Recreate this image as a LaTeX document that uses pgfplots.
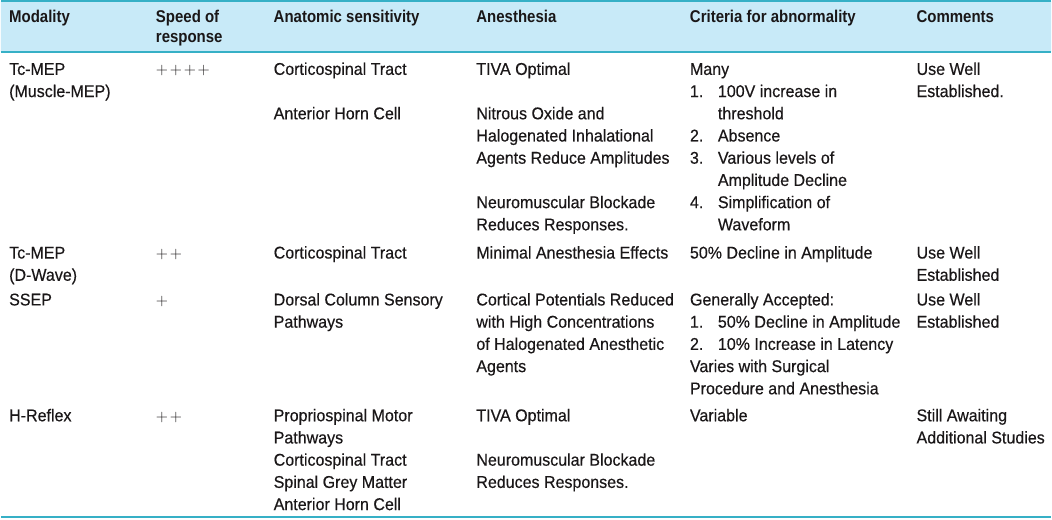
\documentclass[border=0pt]{standalone}
\usepackage{pgfplots}
\pgfplotsset{compat=1.18}
\usepackage{fontspec}
\setmainfont{Liberation Sans}[FakeStretch=0.94, FakeBold=0.4, BoldFeatures={FakeStretch=0.88, FakeBold=0}]
\definecolor{hdr}{HTML}{C8EAF8}
\definecolor{rule}{HTML}{36B0C6}
\definecolor{txt}{HTML}{1A1718}
\newcommand{\T}[3]{\node[anchor=base west,inner sep=0pt,text=txt,font=\fontsize{12.8pt}{14pt}\selectfont] at (axis cs:#1,#2) {#3};}
\newcommand{\Hd}[3]{\node[anchor=base west,inner sep=0pt,text=txt,font=\fontsize{12.8pt}{14pt}\selectfont\bfseries] at (axis cs:#1,#2) {#3};}
\newcommand{\pl}{{+}\mkern2mu}
\begin{document}
\begin{tikzpicture}
\begin{axis}[
  width=789pt, height=390pt, scale only axis,
  xmin=0, xmax=1052, ymin=0, ymax=520, y dir=reverse,
  hide axis, clip=false]
% header band and rules
\addplot[draw=none, fill=hdr] coordinates {(0,1) (1052,1) (1052,52) (0,52) (0,1)};
\addplot[draw=rule, line width=1.4pt] coordinates {(0,1) (1052,1)};
\addplot[draw=rule, line width=1.4pt] coordinates {(0,52) (1052,52)};
\addplot[draw=rule, line width=1.4pt] coordinates {(0,518) (1052,518)};
\path (axis cs:0,0) rectangle (axis cs:1052,520);
% header
\Hd{8}{22.5}{Modality}
\Hd{155}{22.5}{Speed of}
\Hd{155}{43}{response}
\Hd{273}{22.5}{Anatomic sensitivity}
\Hd{476}{22.5}{Anesthesia}
\Hd{690}{22.5}{Criteria for abnormality}
\Hd{917}{22.5}{Comments}
% row 1
\T{8}{75}{Tc-MEP}
\T{8}{97.25}{(Muscle-MEP)}
\T{155}{75}{$\pl\pl\pl{+}$}
\T{273}{75}{Corticospinal Tract}
\T{273}{119.5}{Anterior Horn Cell}
\T{476}{75}{TIVA Optimal}
\T{476}{119.5}{Nitrous Oxide and}
\T{476}{141.75}{Halogenated Inhalational}
\T{476}{164}{Agents Reduce Amplitudes}
\T{476}{208.5}{Neuromuscular Blockade}
\T{476}{230.75}{Reduces Responses.}
\T{690}{75}{Many}
\T{690}{97.25}{1.}
\T{718}{97.25}{100V increase in}
\T{718}{119.5}{threshold}
\T{690}{141.75}{2.}
\T{718}{141.75}{Absence}
\T{690}{164}{3.}
\T{718}{164}{Various levels of}
\T{718}{186.25}{Amplitude Decline}
\T{690}{208.5}{4.}
\T{718}{208.5}{Simplification of}
\T{718}{230.75}{Waveform}
\T{917}{75}{Use Well}
\T{917}{97.25}{Established.}
% row 2
\T{8}{259}{Tc-MEP}
\T{8}{281.25}{(D-Wave)}
\T{155}{259}{$\pl{+}$}
\T{273}{259}{Corticospinal Tract}
\T{476}{259}{Minimal Anesthesia Effects}
\T{690}{259}{50\% Decline in Amplitude}
\T{917}{259}{Use Well}
\T{917}{281.25}{Established}
% row 3
\T{8}{306}{SSEP}
\T{155}{306}{${+}$}
\T{273}{306}{Dorsal Column Sensory}
\T{273}{328.25}{Pathways}
\T{476}{306}{Cortical Potentials Reduced}
\T{476}{328.25}{with High Concentrations}
\T{476}{350.5}{of Halogenated Anesthetic}
\T{476}{372.75}{Agents}
\T{690}{306}{Generally Accepted:}
\T{690}{328.25}{1.}
\T{718}{328.25}{50\% Decline in Amplitude}
\T{690}{350.5}{2.}
\T{718}{350.5}{10\% Increase in Latency}
\T{690}{372.75}{Varies with Surgical}
\T{690}{395}{Procedure and Anesthesia}
\T{917}{306}{Use Well}
\T{917}{328.25}{Established}
% row 4
\T{8}{422}{H-Reflex}
\T{155}{422}{$\pl{+}$}
\T{273}{422}{Propriospinal Motor}
\T{273}{444.25}{Pathways}
\T{273}{466.5}{Corticospinal Tract}
\T{273}{488.75}{Spinal Grey Matter}
\T{273}{511}{Anterior Horn Cell}
\T{476}{422}{TIVA Optimal}
\T{476}{466.5}{Neuromuscular Blockade}
\T{476}{488.75}{Reduces Responses.}
\T{690}{422}{Variable}
\T{917}{422}{Still Awaiting}
\T{917}{444.25}{Additional Studies}
\end{axis}
\end{tikzpicture}
\end{document}
